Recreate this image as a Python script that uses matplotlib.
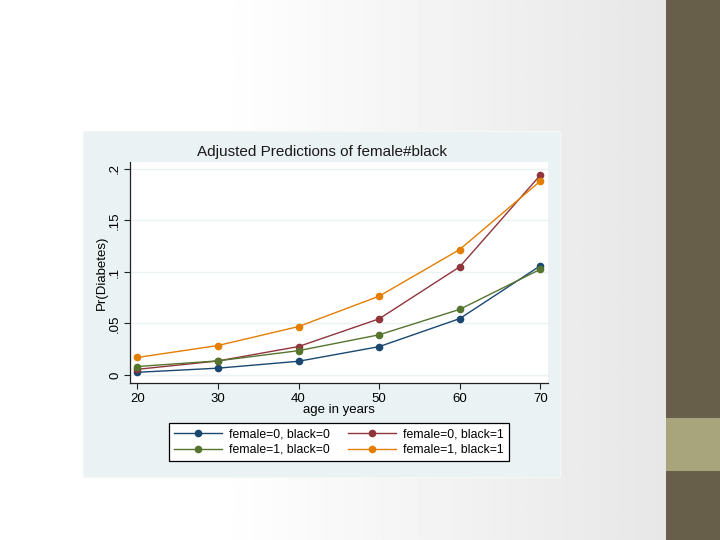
import numpy as np
import matplotlib.pyplot as plt
from matplotlib.patches import Rectangle
from matplotlib.ticker import FixedLocator, FuncFormatter

plt.rcParams['font.family'] = ['Liberation Sans', 'DejaVu Sans']

# data (Stata margins plot)
ages = [20, 30, 40, 50, 60, 70]
f0_b0 = [0.0026, 0.0066, 0.0133, 0.0275, 0.0547, 0.1060]
f0_b1 = [0.0055, 0.0136, 0.0276, 0.0545, 0.1050, 0.1940]
f1_b0 = [0.0082, 0.0137, 0.0236, 0.0390, 0.0637, 0.1026]
f1_b1 = [0.0170, 0.0286, 0.0470, 0.0765, 0.1218, 0.1882]
series_labels = ['female=0, black=0', 'female=0, black=1',
                 'female=1, black=0', 'female=1, black=1']
y_ticks = [0, 0.05, 0.1, 0.15, 0.2]
x_ticks = [20, 30, 40, 50, 60, 70]

colors = {
    'f0_b0': '#1a476f',
    'f0_b1': '#90353b',
    'f1_b0': '#55752f',
    'f1_b1': '#e37e00',
}

W, H = 720, 540


def fx(px):
    return px / W


def fy(py):
    return 1 - py / H


fig = plt.figure(figsize=(7.2, 5.4), dpi=100)

# slide background gradient
bg = fig.add_axes([0, 0, 1, 1], zorder=-10)
xx = np.linspace(0, 1, 400)
yy = np.linspace(0, 1, 300)
X, Y = np.meshgrid(xx, yy)
t = np.clip((X - 0.3) / 0.62, 0, 1)
g = 1.0 - 0.095 * t
bg.imshow(g, cmap='gray', vmin=0, vmax=1, aspect='auto', extent=[0, 1, 0, 1], origin='upper')
bg.set_axis_off()

# right side bar
fig.patches.append(Rectangle((fx(666), 0), fx(54), 1, transform=fig.transFigure,
                             facecolor='#675f4a', edgecolor='none', zorder=-5))
fig.patches.append(Rectangle((fx(666), fy(471)), fx(54), (471 - 418) / H,
                             transform=fig.transFigure, facecolor='#a8a57c',
                             edgecolor='none', zorder=-4))

# chart panel
fig.patches.append(Rectangle((fx(83), fy(477)), fx(560 - 83), (477 - 131) / H,
                             transform=fig.transFigure, facecolor='#eaf2f3',
                             edgecolor='#f4f7f7', lw=1, zorder=-3))

ax = fig.add_axes([fx(129.5), fy(382.7), fx(547.7 - 129.5), (382.7 - 162.3) / H])
ax.set_facecolor('white')

ax.plot(ages, f0_b0, '-o', color=colors['f0_b0'], lw=1, ms=4.5, label=series_labels[0])
ax.plot(ages, f0_b1, '-o', color=colors['f0_b1'], lw=1, ms=4.5, label=series_labels[1])
ax.plot(ages, f1_b0, '-o', color=colors['f1_b0'], lw=1, ms=4.5, label=series_labels[2])
ax.plot(ages, f1_b1, '-o', color=colors['f1_b1'], lw=1, ms=4.5, label=series_labels[3])

ax.set_xlim(19.03, 70.92)
ax.set_ylim(-0.0075, 0.2065)
ax.xaxis.set_major_locator(FixedLocator(x_ticks))
ax.yaxis.set_major_locator(FixedLocator(y_ticks))
ax.yaxis.set_major_formatter(FuncFormatter(lambda v, p: '0' if v == 0 else ('%g' % v).lstrip('0')))
ax.grid(axis='y', color='#eaf2f3', lw=1)
ax.set_axisbelow(True)
for s in ['top', 'right']:
    ax.spines[s].set_visible(False)
for s in ['left', 'bottom']:
    ax.spines[s].set_color('#222222')
    ax.spines[s].set_linewidth(0.9)
ax.tick_params(axis='both', direction='out', length=4, width=0.8, colors='#222222',
               labelsize=9.5, labelcolor='black')
ax.tick_params(axis='y', pad=2)
plt.setp(ax.get_yticklabels(), rotation=90, va='center')
ax.set_xlabel('age in years', fontsize=9.5, labelpad=-1)
ax.set_ylabel('Pr(Diabetes)', fontsize=9.5, labelpad=1)

fig.text(fx(322), fy(152), 'Adjusted Predictions of female#black', ha='center', va='center',
         fontsize=11, color='#1a1a1a')

handles, labels = ax.get_legend_handles_labels()
order = [0, 2, 1, 3]
leg = fig.legend([handles[i] for i in order], [labels[i] for i in order],
                 loc='center', ncol=2,
                 bbox_to_anchor=(fx(339), fy(442)),
                 fontsize=8.8, frameon=True, fancybox=False, borderaxespad=0,
                 handlelength=3.9, handletextpad=0.6, columnspacing=1.5,
                 labelspacing=0.3, borderpad=0.45)
leg.get_frame().set_edgecolor('black')
leg.get_frame().set_linewidth(0.9)
leg.get_frame().set_facecolor('white')
leg.get_frame().set_alpha(1)

fig.savefig('out.png', dpi=100)
